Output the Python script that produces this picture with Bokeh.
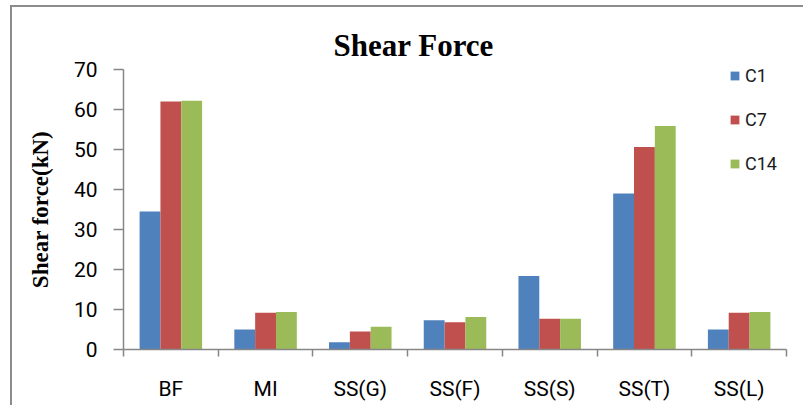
from bokeh.plotting import figure
from bokeh.models import (ColumnDataSource, FixedTicker, Legend, LegendItem, Title,
                          Range1d)
from bokeh.embed import file_html
from bokeh.resources import INLINE

# Shear force (kN) per case and column group
categories = ["BF", "MI", "SS(G)", "SS(F)", "SS(S)", "SS(T)", "SS(L)"]
c1 = [34.5, 5.0, 1.8, 7.3, 18.4, 39.0, 5.0]
c7 = [62.0, 9.2, 4.5, 6.8, 7.7, 50.6, 9.2]
c14 = [62.2, 9.4, 5.7, 8.1, 7.7, 55.9, 9.4]
series_names = ["C1", "C7", "C14"]
colors = ["#4F81BD", "#C0504D", "#9BBB59"]
y_ticks = [0, 10, 20, 30, 40, 50, 60, 70]

bar_w = 0.22
offsets = [-bar_w, 0.0, bar_w]
centers = [i + 0.5 for i in range(len(categories))]

p = figure(width=793, height=400, output_backend="svg", toolbar_location=None,
           x_range=Range1d(0, len(categories)), y_range=Range1d(0, 70),
           min_border_left=111, min_border_right=19, min_border_top=62,
           min_border_bottom=58, title=None)
p.styles = {"border-left": "2px solid #8c8c8c", "border-top": "2px solid #8c8c8c",
            "margin-left": "10px", "margin-top": "5px"}
p.outline_line_color = None
p.grid.visible = False
p.background_fill_color = "white"

renderers = []
for vals, off, col in zip([c1, c7, c14], offsets, colors):
    src = ColumnDataSource(dict(x=[c + off for c in centers], top=vals))
    r = p.vbar(x="x", top="top", width=bar_w, source=src, fill_color=col,
               line_color=None)
    renderers.append(r)

axis_color = "#868686"
tick_font = "Roboto"

# x axis: category names centred, short marks at group boundaries
xa = p.xaxis[0]
xa.ticker = FixedTicker(ticks=centers, minor_ticks=list(range(len(categories) + 1)))
xa.major_label_overrides = {c: name for c, name in zip(centers, categories)}
xa.major_tick_out = 0
xa.major_tick_in = 0
xa.minor_tick_out = 7
xa.minor_tick_in = 0
xa.axis_line_color = axis_color
xa.axis_line_width = 1.5
xa.minor_tick_line_color = axis_color
xa.minor_tick_line_width = 1.5
xa.major_label_text_font = tick_font
xa.major_label_text_font_size = "21px"
xa.major_label_text_color = "black"
xa.major_label_standoff = 20

ya = p.yaxis[0]
ya.ticker = FixedTicker(ticks=y_ticks)
ya.minor_tick_line_color = None
ya.major_tick_out = 10
ya.major_tick_in = 0
ya.axis_line_color = axis_color
ya.axis_line_width = 1.5
ya.major_tick_line_color = axis_color
ya.major_tick_line_width = 1.5
ya.major_label_text_font = tick_font
ya.major_label_text_font_size = "21px"
ya.major_label_text_color = "black"
ya.major_label_standoff = 16
ya.axis_label = "Shear force(kN)"
ya.axis_label_text_font = "Liberation Serif"
ya.axis_label_text_font_style = "bold"
ya.axis_label_text_font_size = "23px"
ya.axis_label_text_color = "black"
ya.axis_label_standoff = 18

title = Title(text="Shear Force", text_font="Liberation Serif",
              text_font_style="bold", text_font_size="31px", align="left",
              offset=210, standoff=14, text_color="black")
p.add_layout(title, "above")

legend = Legend(items=[LegendItem(label=n, renderers=[r])
                       for n, r in zip(series_names, renderers)],
                location=(606, 175), orientation="vertical",
                label_text_font="Roboto", label_text_font_size="18px",
                label_text_color="#1a1a1a", glyph_width=11, glyph_height=11,
                label_height=22, spacing=22, label_standoff=5, padding=0,
                margin=0, border_line_color=None, background_fill_alpha=0)
p.add_layout(legend)

open("out.html", "w").write(file_html(p, INLINE))
